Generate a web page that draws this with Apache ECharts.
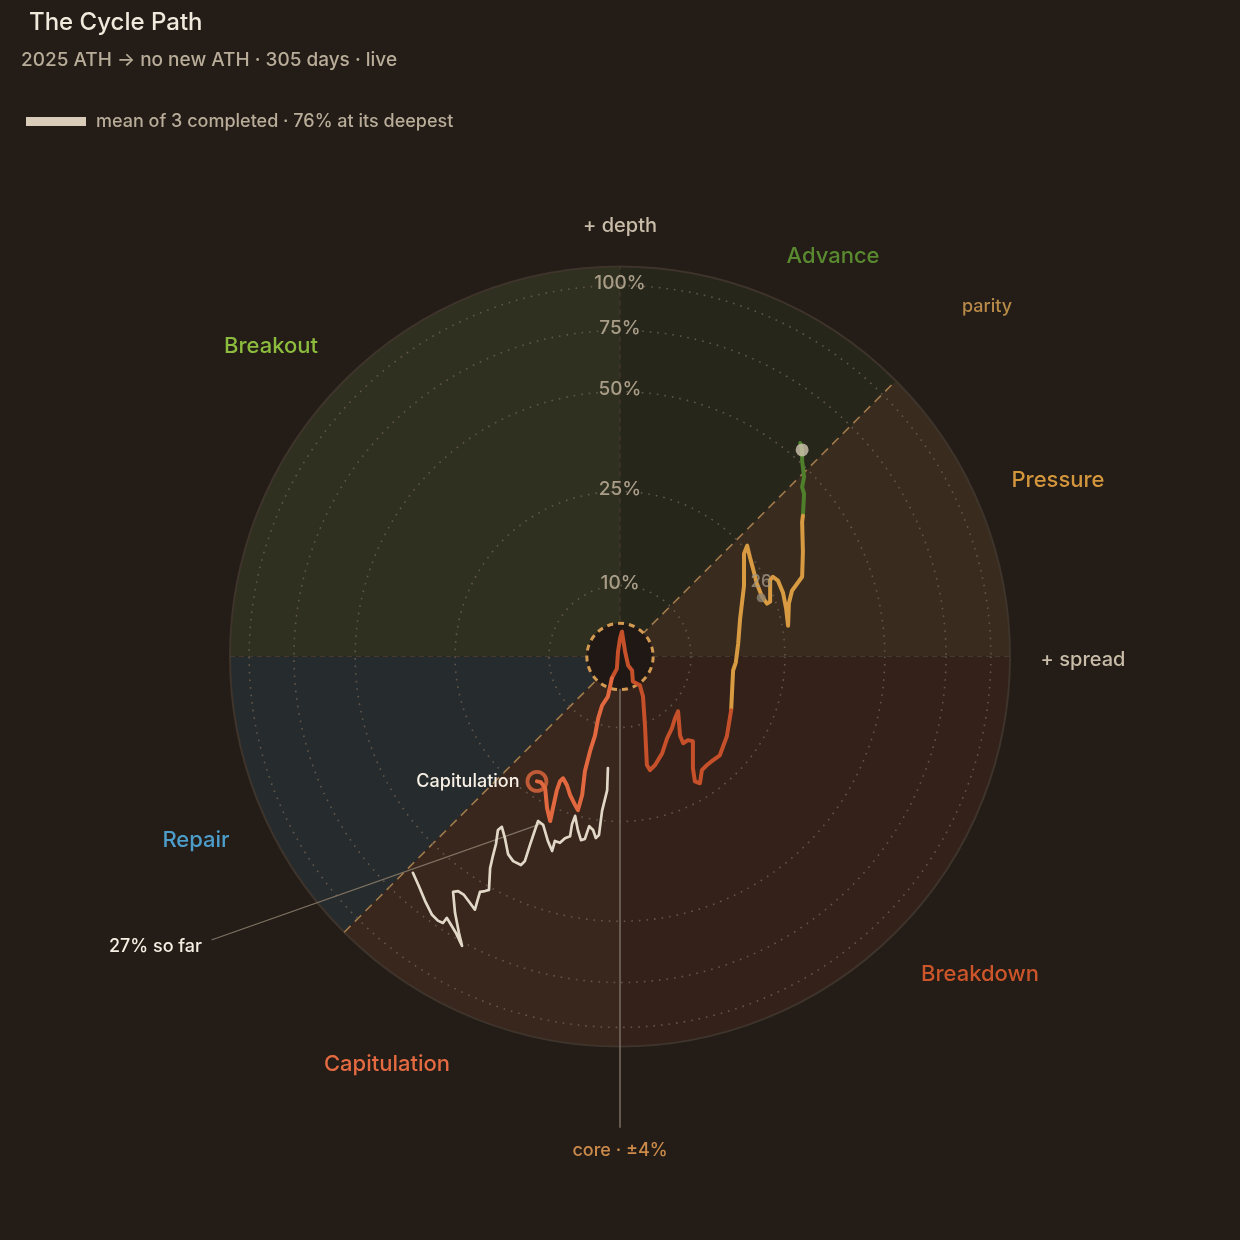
<!DOCTYPE html>
<html>
<head>
<meta charset="utf-8">
<title>The Cycle Path</title>
<script src="https://cdn.jsdelivr.net/npm/echarts@6/dist/echarts.min.js"></script>
<style>
  html, body { margin: 0; padding: 0; background: #231c17; }
  #chart { width: 1240px; height: 1240px; }
</style>
</head>
<body>
<div id="chart"></div>
<script>
// [spread, depth] in chart units, rim of the disc = 100
const advancePath = [
  [46.2, 54.9], [46.7, 53.1], [46.7, 50.3], [47.2, 46.2], [46.7, 43.6], [47.2, 41.8], [46.9, 36.2]
];
const pressurePath = [
  [46.9, 36.2], [46.7, 34.6], [46.9, 26.9], [46.7, 20.5], [44.1, 16.9], [43.3, 13.6], [43.1, 7.9],
  [42.6, 12.3], [41.8, 16.4], [40.5, 19.5], [39.2, 20.5], [38.5, 19.7], [38.5, 14.1], [37.7, 13.6],
  [36.4, 15.4], [35.1, 18.7], [34.1, 22.6], [33.3, 25.6], [32.6, 28.5], [31.8, 26.4], [31.8, 18.2],
  [30.8, 9.7], [30.3, 3.3], [29.7, -1.5], [29.0, -3.6], [28.5, -13.8]
];
const breakdownPath = [
  [28.5, -13.8], [27.4, -20.5], [25.6, -25.4], [23.8, -26.7], [22.3, -27.9], [21.0, -29.2],
  [20.5, -32.6], [19.2, -32.1], [18.7, -28.7], [18.7, -21.8], [17.4, -21.5], [16.2, -22.3],
  [15.4, -20.3], [14.9, -14.1], [14.1, -15.9], [13.3, -18.5], [12.1, -21.0], [10.8, -24.9],
  [9.0, -27.9], [7.7, -29.2], [6.9, -27.9], [6.4, -17.7], [5.9, -10.3], [5.1, -7.4], [3.3, -6.4],
  [3.1, -3.6], [2.1, -2.3], [1.3, 1.3], [0.5, 6.4], [0, 4.6], [-0.5, 1.3], [-0.8, -3.1], [-2.1, -5.6]
];
const capitulationPath = [
  [-2.1, -5.6], [-3.1, -10.3], [-4.6, -12.6], [-5.6, -15.9], [-6.4, -20.3], [-7.7, -24.4],
  [-9.0, -29.5], [-9.7, -35.6], [-10.8, -39.5], [-11.5, -38.2], [-12.8, -35.6], [-13.6, -33.1],
  [-14.6, -31.3], [-15.4, -32.1], [-16.2, -34.4], [-17.2, -39.0], [-17.9, -42.3], [-18.7, -39.0],
  [-19.2, -33.8], [-20.3, -32.3], [-21.3, -32.1]
];
const meanPath = [
  [-3.1, -28.7], [-3.3, -34.4], [-4.6, -39.7], [-5.4, -45.9], [-6.2, -46.7], [-6.9, -44.6],
  [-7.9, -43.6], [-9.0, -46.9], [-10.0, -47.2], [-10.8, -44.6], [-11.5, -41.0], [-12.3, -43.1],
  [-12.8, -46.2], [-14.1, -46.7], [-15.4, -47.9], [-16.7, -47.4], [-17.4, -50.0], [-18.5, -47.4],
  [-19.7, -43.3], [-21.0, -42.3], [-21.8, -44.6], [-23.1, -48.5], [-24.4, -52.6], [-25.4, -53.6],
  [-27.4, -52.6], [-28.7, -50.8], [-29.5, -46.7], [-30.3, -43.8], [-31.3, -44.6], [-31.8, -48.2],
  [-32.6, -51.3], [-33.3, -54.4], [-33.6, -60.0], [-34.6, -60.3], [-35.9, -60.5], [-36.7, -63.3],
  [-37.2, -65.1], [-38.5, -63.3], [-40.0, -61.3], [-41.5, -60.3], [-42.8, -60.5], [-42.3, -65.9],
  [-41.3, -71.0], [-40.5, -74.4], [-42.1, -71.0], [-43.6, -68.5], [-44.4, -67.2], [-45.4, -68.5],
  [-46.7, -67.9], [-48.2, -66.4], [-50.0, -62.8], [-51.5, -59.2], [-53.1, -55.6]
];
const ringTicks = ['10%', '25%', '50%', '75%', '100%'];
const ringRadius = [18.2, 42.3, 67.9, 83.6, 95.1];
const regionNames = ['Pressure', 'Advance', 'Breakout', 'Repair', 'Capitulation', 'Breakdown'];
const regionFrom = [0, 45, 90, 180, 225, 270];
const regionTo = [45, 90, 180, 225, 270, 360];
const yearMark = [[36.2, 15.1]];
const soFarLeader = [[-104.6, -72.8], [-20.5, -43.1]];
const coreLeader = [[0, -8.5], [0, -121]];
const rimRadius = 100;
const coreRadius = 8.5;

const regionFill = ['#392c1f', '#27261b', '#2f301f', '#262b2e', '#39261c', '#33211a'];
const BG = '#231c17';
const FONT = 'Inter, "Noto Sans", sans-serif';

const chart = echarts.init(document.getElementById('chart'));

function deg(a) { return a * Math.PI / 180; }

function renderRegion(params, api) {
  const i = api.value(0);
  const c = api.coord([0, 0]);
  const r = api.size([rimRadius, 0])[0];
  return {
    type: 'sector',
    shape: { cx: c[0], cy: c[1], r0: 0, r: r, startAngle: -deg(regionTo[i]), endAngle: -deg(regionFrom[i]), clockwise: true },
    style: { fill: regionFill[i] }
  };
}

function renderFrame(params, api) {
  const c = api.coord([0, 0]);
  const r = api.size([rimRadius, 0])[0];
  const d = r * Math.SQRT1_2;
  const faint = { stroke: '#463a2f', lineWidth: 1.2, lineDash: [5, 4] };
  return {
    type: 'group',
    children: [
      { type: 'circle', shape: { cx: c[0], cy: c[1], r: r }, style: { fill: null, stroke: '#3e342b', lineWidth: 2 } },
      { type: 'line', shape: { x1: c[0] - r, y1: c[1], x2: c[0] + r, y2: c[1] }, style: faint },
      { type: 'line', shape: { x1: c[0], y1: c[1], x2: c[0], y2: c[1] - r }, style: faint },
      { type: 'line', shape: { x1: c[0] - d, y1: c[1] + d, x2: c[0] + d, y2: c[1] - d },
        style: { stroke: '#a27a4c', lineWidth: 1.6, lineDash: [9, 6] }, z2: 5 }
    ]
  };
}

function renderRing(params, api) {
  const i = params.dataIndex;
  const c = api.coord([0, 0]);
  const r = api.size([ringRadius[i], 0])[0];
  return {
    type: 'group',
    children: [
      { type: 'circle', shape: { cx: c[0], cy: c[1], r: r },
        style: { fill: null, stroke: '#62574a', lineWidth: 1.6, lineDash: [1.6, 6] } },
      { type: 'text', x: c[0], y: c[1] - r - 2, z2: 10,
        style: { text: ringTicks[i], fill: '#a99d88', font: '500 19px ' + FONT, align: 'center', verticalAlign: 'middle',
                 textAlign: 'center', textVerticalAlign: 'middle' } }
    ]
  };
}

function renderCore(params, api) {
  const c = api.coord([0, 0]);
  const r = api.size([coreRadius, 0])[0];
  return {
    type: 'circle',
    shape: { cx: c[0], cy: c[1], r: r },
    style: { fill: '#1f1814', stroke: '#d39a52', lineWidth: 3, lineDash: [6, 5] }
  };
}

function pathSeries(name, data, color, width, z) {
  return {
    type: 'line', name: name, data: data, symbol: 'none', z: z, silent: true,
    lineStyle: { color: color, width: width, cap: 'round', join: 'round' }
  };
}

function label(text, x, y, color, size, align) {
  return {
    type: 'text', x: x, y: y, silent: true,
    style: { text: text, fill: color, font: '500 ' + size + 'px ' + FONT, align: align || 'center', verticalAlign: 'middle',
             textAlign: align || 'center', textVerticalAlign: 'middle' }
  };
}

const option = {
  backgroundColor: BG,
  animation: false,
  grid: { left: 35, top: 73, width: 1170, height: 1170 },
  xAxis: { type: 'value', min: -150, max: 150, show: false },
  yAxis: { type: 'value', min: -150, max: 150, show: false },
  series: [
    { type: 'custom', name: 'regions', z: 1, silent: true, renderItem: renderRegion,
      data: regionNames.map((n, i) => [i]) },
    { type: 'custom', name: 'frame', z: 2, silent: true, renderItem: renderFrame, data: [[0]] },
    { type: 'custom', name: 'rings', z: 3, silent: true, renderItem: renderRing,
      data: ringRadius.map(r => [r]) },
    { type: 'custom', name: 'core', z: 4, silent: true, renderItem: renderCore, data: [[0]] },
    pathSeries('core leader', coreLeader, '#7a6e60', 1.5, 5),
    pathSeries('so far leader', soFarLeader, '#7f7262', 1.2, 5),
    pathSeries('mean', meanPath, '#e2d8c8', 2.7, 6),
    pathSeries('Advance', advancePath, '#4f7f2b', 4, 7),
    pathSeries('Pressure', pressurePath, '#d99b41', 4, 7),
    pathSeries('Breakdown', breakdownPath, '#c5502a', 4, 7),
    pathSeries('Capitulation', capitulationPath, '#e2693f', 4, 7),
    { type: 'scatter', name: 'ath', z: 8, silent: true, symbolSize: 13,
      itemStyle: { color: '#cfc4b0' }, data: [advancePath[1]] },
    { type: 'scatter', name: 'year', z: 8, silent: true, symbolSize: 9,
      itemStyle: { color: '#8d8372' }, data: yearMark,
      label: { show: true, position: 'top', distance: 3, formatter: '26', color: '#a39987', fontSize: 17, fontWeight: 500,
               fontFamily: FONT, textBorderWidth: 0 } },
    { type: 'scatter', name: 'now', z: 9, silent: true, symbol: 'circle', symbolSize: 19,
      itemStyle: { color: 'rgba(0,0,0,0)', borderColor: '#e2693f', borderWidth: 3.8 },
      data: [capitulationPath[capitulationPath.length - 1]],
      label: { show: true, position: 'left', distance: 6, formatter: 'Capitulation', color: '#f6efe3', fontSize: 18,
               fontWeight: 500, fontFamily: FONT, textBorderWidth: 0, opacity: 1 } }
  ],
  graphic: [
    label('The Cycle Path', 29, 23, '#f1e9dc', 24, 'left'),
    label('2025 ATH \u2192 no new ATH \u00b7 305 days \u00b7 live', 21, 60, '#b9ad99', 19, 'left'),
    { type: 'rect', shape: { x: 26, y: 117, width: 60, height: 9 }, style: { fill: '#d9cdb9' }, silent: true },
    label('mean of 3 completed \u00b7 76% at its deepest', 96, 122, '#b9ad99', 18, 'left'),
    label('+ depth', 620, 226, '#c9bda9', 20),
    label('+ spread', 1083, 660, '#c9bda9', 20),
    label('parity', 987, 307, '#b98b49', 18),
    label('Advance', 833, 256, '#5a8a2f', 22),
    label('Breakout', 271, 346, '#8cbc3d', 22),
    label('Pressure', 1058, 480, '#d4963d', 22),
    label('Repair', 196, 840, '#4d9dcb', 22),
    label('Breakdown', 980, 974, '#cc5529', 22),
    label('Capitulation', 387, 1064, '#e46a41', 22),
    label('core \u00b7 \u00b14%', 620, 1151, '#cd8b4b', 18),
    label('27% so far', 202, 947, '#f6efe3', 18, 'right')
  ]
};

chart.setOption(option);
</script>
</body>
</html>
